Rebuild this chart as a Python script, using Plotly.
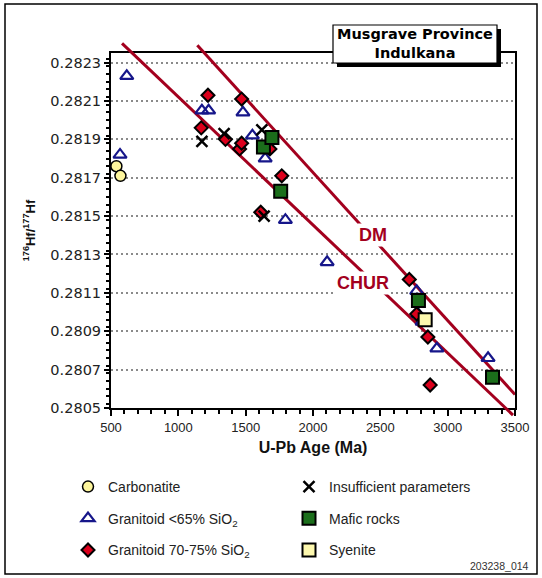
import plotly.graph_objects as go

# ---------------- data ----------------
carb_age = [540, 570]
carb_hf = [0.28176, 0.28171]

g65_age = [567, 617, 1175, 1225, 1480, 1550, 1645, 1795, 2105, 2770, 2780, 2810, 2920, 3300]
g65_hf = [0.28182, 0.28223, 0.28205, 0.28205, 0.28204, 0.28192, 0.28180, 0.28148,
          0.28126, 0.28111, 0.28099, 0.28095, 0.28081, 0.28076]

g70_age = [1170, 1220, 1350, 1455, 1470, 1470, 1612, 1680, 1768, 2715, 2770, 2853, 2870]
g70_hf = [0.28196, 0.28213, 0.28190, 0.28185, 0.28188, 0.28211, 0.28152, 0.28185,
          0.28171, 0.28117, 0.28099, 0.28087, 0.28062]

ins_age = [1175, 1340, 1620, 1637]
ins_hf = [0.28189, 0.28193, 0.28195, 0.28150]

maf_age = [1632, 1695, 1760, 2783, 3333]
maf_hf = [0.28186, 0.28191, 0.28163, 0.28106, 0.28066]

sye_age = [2833]
sye_hf = [0.28096]

dm_age = [1141, 3500]
dm_hf = [0.28239, 0.28057]
chur_age = [582, 3485]
chur_hf = [0.28240, 0.280463]

x_range = [500, 3500]
y_range = [0.2805, 0.28235]
line_labels = {"DM": (2446, 0.28140), "CHUR": (2371, 0.28115)}

# ---------------- layout geometry ----------------
W, H = 542, 578
PL, PR = 111, 515          # plot area x (px)
PT, PB = 40, 428           # outer (unclipped) area y (px)
FT, FB = 53, 408           # framed area y (px)


def pxx(x):
    return (x - PL) / (PR - PL)


def pxy(y):
    return (PB - y) / (PB - PT)


dom = [pxy(FB), pxy(FT)]
span = y_range[1] - y_range[0]
k = span / (dom[1] - dom[0])
y2_range = [y_range[0] - dom[0] * k, y_range[1] + (1 - dom[1]) * k]

LINE_COL = "#a3001e"
FONT = "Liberation Sans, Arial, sans-serif"

fig = go.Figure()

for name, ax, ay in [("DM", dm_age, dm_hf), ("CHUR", chur_age, chur_hf)]:
    fig.add_trace(go.Scatter(x=ax, y=ay, mode="lines", yaxis="y2",
                             line=dict(color=LINE_COL, width=3),
                             showlegend=False, hoverinfo="skip"))

fig.add_trace(go.Scatter(
    x=carb_age, y=carb_hf, mode="markers", name="Carbonatite", yaxis="y2",
    legend="legend", legendgroup="a",
    marker=dict(symbol="circle", size=11, color="#fdf59c",
                line=dict(color="black", width=1.5))))
fig.add_trace(go.Scatter(
    x=g65_age, y=g65_hf, mode="markers", name="Granitoid &lt;65% SiO<sub>2</sub>",
    yaxis="y2", legend="legend", legendgroup="b",
    marker=dict(symbol="triangle-up-open", size=11.5, color="#16168a",
                line=dict(width=2.2))))
fig.add_trace(go.Scatter(
    x=g70_age, y=g70_hf, mode="markers", name="Granitoid 70-75% SiO<sub>2</sub>",
    yaxis="y2", legend="legend", legendgroup="c",
    marker=dict(symbol="diamond", size=10, color="#dc001c",
                line=dict(color="black", width=2))))
fig.add_trace(go.Scatter(
    x=ins_age, y=ins_hf, mode="markers", name="Insufficient parameters",
    yaxis="y2", legend="legend2", legendgroup="d",
    marker=dict(symbol="x-thin", size=11, color="black",
                line=dict(color="black", width=2.5))))
fig.add_trace(go.Scatter(
    x=maf_age, y=maf_hf, mode="markers", name="Mafic rocks",
    yaxis="y2", legend="legend2", legendgroup="e",
    marker=dict(symbol="square", size=13, color="#1b6e1b",
                line=dict(color="black", width=2))))
fig.add_trace(go.Scatter(
    x=sye_age, y=sye_hf, mode="markers", name="Syenite",
    yaxis="y2", legend="legend2", legendgroup="f",
    marker=dict(symbol="square", size=13, color="#fdf8ae",
                line=dict(color="black", width=2))))

tick_style = dict(ticks="outside", tickwidth=1.5, tickcolor="black",
                  showline=True, linecolor="black", linewidth=2, mirror=True,
                  zeroline=False)

fig.update_layout(
    width=W, height=H,
    margin=dict(l=PL, r=W - PR, t=PT, b=H - PB, autoexpand=False),
    paper_bgcolor="white", plot_bgcolor="rgba(0,0,0,0)",
    font=dict(family=FONT, color="#222"),
    xaxis=dict(range=x_range, tick0=500, dtick=500, anchor="y", ticklen=6,
               showgrid=False,
               tickfont=dict(size=13, family=FONT, color="#222"),
               minor=dict(dtick=100, ticks="outside", ticklen=4, tickwidth=1.5,
                          tickcolor="black", showgrid=False),
               title=dict(text="<b>U-Pb Age (Ma)</b>", standoff=8,
                          font=dict(size=16, family=FONT, color="#111")),
               **tick_style),
    yaxis=dict(range=y_range, domain=dom, anchor="x", tick0=0.2805, dtick=0.0002,
               tickformat=".4f", ticklen=5,
               showgrid=True, gridcolor="#8a8a8a", gridwidth=2, griddash="2px,3px",
               tickfont=dict(size=14.5, family="DejaVu Sans, sans-serif", color="#222"),
               minor=dict(dtick=0.00004, ticks="outside", ticklen=3.5, tickwidth=1.5,
                          tickcolor="black", showgrid=False),
               title=dict(text="<b><sup>176</sup>Hf/<sup>177</sup>Hf</b>", standoff=12,
                          font=dict(size=13, family=FONT, color="#111")),
               **tick_style),
    yaxis2=dict(range=y2_range, domain=[0, 1], anchor="x", visible=False),
    legend=dict(x=pxx(68), y=pxy(471), xanchor="left", yanchor="top",
                traceorder="grouped", tracegroupgap=10.5, bgcolor="rgba(0,0,0,0)",
                font=dict(size=14, family=FONT, color="#222")),
    legend2=dict(x=pxx(289), y=pxy(471), xanchor="left", yanchor="top",
                 traceorder="grouped", tracegroupgap=10.5, bgcolor="rgba(0,0,0,0)",
                 font=dict(size=14, family=FONT, color="#222")),
)

# outer frame and title box
fig.add_shape(type="rect", xref="paper", yref="paper",
              x0=pxx(5), x1=pxx(537), y0=pxy(574), y1=pxy(4),
              line=dict(color="black", width=1.5), layer="below")
fig.add_shape(type="rect", xref="paper", yref="paper",
              x0=pxx(337), x1=pxx(501), y0=pxy(67), y1=pxy(29),
              fillcolor="black", line=dict(width=0), layer="above")
fig.add_shape(type="rect", xref="paper", yref="paper",
              x0=pxx(333), x1=pxx(497), y0=pxy(63), y1=pxy(25),
              fillcolor="white", line=dict(color="black", width=1.2), layer="above")
fig.add_annotation(xref="paper", yref="paper", x=pxx(415), y=pxy(44),
                   xanchor="center", yanchor="middle",
                   text="<b>Musgrave Province<br>Indulkana</b>", showarrow=False,
                   font=dict(size=14.5, family="DejaVu Sans, sans-serif", color="black"))

for lab, (lx, ly) in line_labels.items():
    fig.add_annotation(x=lx, y=ly, xref="x", yref="y", text=f"<b>{lab}</b>",
                       xanchor="center", yanchor="middle",
                       showarrow=False, bgcolor="white", borderpad=1,
                       font=dict(size=18, family=FONT, color=LINE_COL))

fig.add_annotation(xref="paper", yref="paper", x=pxx(531), y=pxy(566),
                   xanchor="right", yanchor="middle", text="203238_014",
                   showarrow=False, font=dict(size=10.5, family=FONT, color="#333"))

fig.write_html("out.html",
               config={"displayModeBar": False},
               post_script="document.body.style.margin='0';"
                           "document.body.style.padding='0';")
